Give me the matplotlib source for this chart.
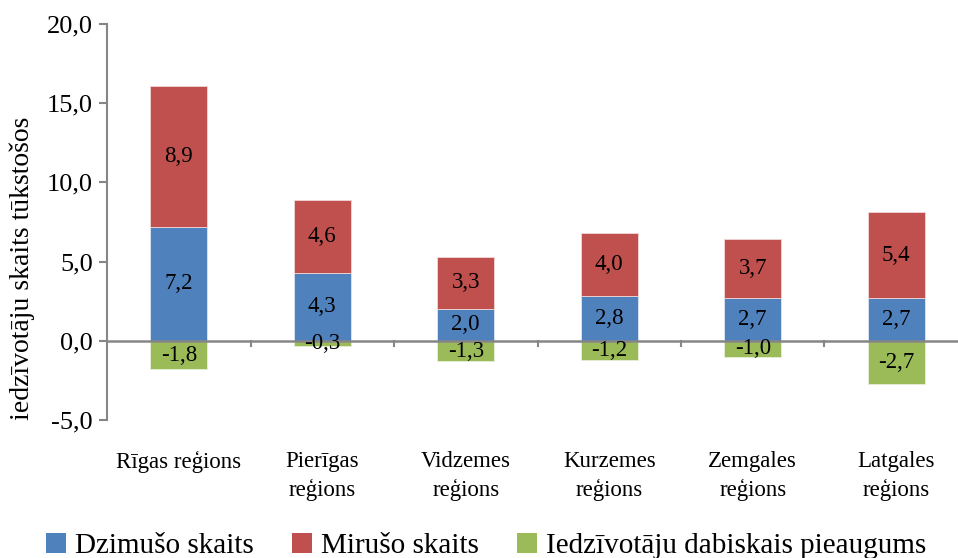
import matplotlib
matplotlib.use("Agg")
import matplotlib.pyplot as plt
from matplotlib.patches import Patch
import numpy as np

plt.rcParams['font.family'] = ['Liberation Serif', 'DejaVu Serif']

categories = ["Rīgas reģions", "Pierīgas\nreģions", "Vidzemes\nreģions",
              "Kurzemes\nreģions", "Zemgales\nreģions", "Latgales\nreģions"]
births = [7.2, 4.3, 2.0, 2.8, 2.7, 2.7]
deaths = [8.9, 4.6, 3.3, 4.0, 3.7, 5.4]
natural = [-1.8, -0.3, -1.3, -1.2, -1.0, -2.7]
series_names = ["Dzimušo skaits", "Mirušo skaits", "Iedzīvotāju dabiskais pieaugums"]
colors = ["#4F81BD", "#C0504D", "#9BBB59"]
yticks = [-5, 0, 5, 10, 15, 20]

W, H = 958, 558
fig = plt.figure(figsize=(W / 100, H / 100), dpi=100)
left = 107 / W
right_px = 968
bottom_px = 420
top_px = 24
ax = fig.add_axes([left, (H - bottom_px) / H, (right_px - 107) / W, (bottom_px - top_px) / H])

x = np.arange(len(categories))
bw = 0.40
ax.bar(x, births, bw, color=colors[0], edgecolor='#dde6f2', linewidth=0.6, zorder=2)
ax.bar(x, deaths, bw, bottom=births, color=colors[1], edgecolor='#f0d8d8', linewidth=0.6, zorder=2)
ax.bar(x, natural, bw, color=colors[2], edgecolor='#e6eed8', linewidth=0.6, zorder=2)

def fmt(v):
    return f"{v:.1f}".replace('.', ',')

for i in range(len(categories)):
    ax.text(x[i], births[i] / 2, fmt(births[i]), ha='center', va='center', fontsize=16.5, zorder=4)
    ax.text(x[i], births[i] + deaths[i] / 2, fmt(deaths[i]), ha='center', va='center', fontsize=16.5, zorder=4)
    ax.text(x[i], natural[i] / 2, fmt(natural[i]), ha='center', va='center', fontsize=16.5, zorder=4)

ax.set_xlim(-0.5, len(categories) - 0.5)
ax.set_ylim(-5, 20)
ax.set_yticks(yticks)
ax.set_yticklabels([fmt(v) for v in yticks], fontsize=19)

gray = '#868686'
for s in ['top', 'right', 'bottom']:
    ax.spines[s].set_visible(False)
ax.spines['left'].set_color(gray)
ax.spines['left'].set_linewidth(1.5)
ax.axhline(0, color=gray, linewidth=1.8, zorder=3)
ax.tick_params(axis='y', direction='out', length=6, width=1.5, color=gray, pad=4)
ax.set_xticks([])
# category boundary ticks on zero line
for b in np.arange(0.5, len(categories) - 0.5, 1.0):
    ax.plot([b, b], [0, -0.33], color=gray, linewidth=1.5, zorder=3, clip_on=False)

# category labels
px_per_unit = (bottom_px - top_px) / 25.0
for i, lab in enumerate(categories):
    for j, line in enumerate(lab.split('\n')):
        ypix = 462 + 28 * j
        yd = (341 - ypix) / px_per_unit
        ax.text(x[i], yd, line, ha='center', va='center', fontsize=16.5, clip_on=False)

fig.text(22 / W, 1 - 268 / H, "iedzīvotāju skaits tūkstošos", rotation=90,
         ha='center', va='center', fontsize=20)

handles = [Patch(facecolor=c, edgecolor='none') for c in colors]
fig.legend(handles, series_names, loc='center', bbox_to_anchor=(486 / W, 1 - 546 / H),
           ncol=3, frameon=False, fontsize=21, handlelength=0.7, handleheight=0.7,
           handletextpad=0.3, columnspacing=1.3, borderaxespad=0)

fig.savefig("out.png", dpi=100)
